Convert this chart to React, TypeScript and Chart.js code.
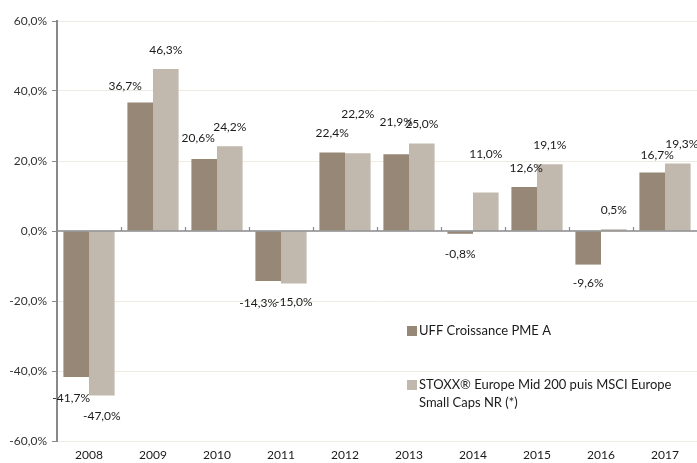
import React, { useEffect, useRef } from "react";
import { Chart, registerables } from "chart.js";

Chart.register(...registerables);

const years = ["2008", "2009", "2010", "2011", "2012", "2013", "2014", "2015", "2016", "2017"];
const uffValues = [-41.7, 36.7, 20.6, -14.3, 22.4, 21.9, -0.8, 12.6, -9.6, 16.7];
const stoxxValues = [-47.0, 46.3, 24.2, -15.0, 22.2, 25.0, 11.0, 19.1, 0.5, 19.3];
const seriesNames = ["UFF Croissance PME A", "STOXX® Europe Mid 200 puis MSCI Europe|Small Caps NR (*)"];

// label placement nudges (dx, dy) in px, per dataset/category
const labelNudges = [
  [[-5, 2], [-15, 3], [-6, -2], [-10, 3], [0, 0], [0, -13], [0, 1], [2, 0], [0, 0], [5, 2]],
  [[0, 2], [0, 0], [0, 0], [0, 0], [0, -20], [0, 0], [0, -19], [0, 0], [0, 0], [4, 0]],
];

const BROWN = "#978777";
const LIGHT = "#c2b9ae";
const AXIS = "#898989";
const GRID = "#eeebe3";
const FONT = "Lato, 'DejaVu Sans', sans-serif";

const fmt = (v: number) => v.toFixed(1).replace(".", ",") + "%";

const overlayPlugin = {
  id: "overlay",
  afterDatasetsDraw(chart: any) {
    const ctx = chart.ctx;
    const y = chart.scales.y;
    const y0 = y.getPixelForValue(0);
    const area = chart.chartArea;
    ctx.save();
    // zero line
    ctx.strokeStyle = AXIS;
    ctx.lineWidth = 1.5;
    ctx.beginPath();
    ctx.moveTo(area.left, y0);
    ctx.lineTo(area.right, y0);
    ctx.stroke();
    // category tick marks
    const n = years.length;
    const w = (area.right - area.left) / n;
    ctx.lineWidth = 1.2;
    for (let i = 1; i < n; i++) {
      const px = Math.round(area.left + w * i) + 0.5;
      ctx.beginPath();
      ctx.moveTo(px, y0);
      ctx.lineTo(px, y0 - 4);
      ctx.stroke();
    }
    // data labels
    ctx.fillStyle = "#1a1a1a";
    ctx.font = "12px " + FONT;
    ctx.textAlign = "center";
    ctx.textBaseline = "middle";
    chart.data.datasets.forEach((ds: any, di: number) => {
      const meta = chart.getDatasetMeta(di);
      meta.data.forEach((bar: any, i: number) => {
        const v = ds.data[i];
        const yEnd = y.getPixelForValue(v);
        const [dx, dy] = labelNudges[di][i];
        const ly = v >= 0 ? yEnd - 19 : yEnd + 19;
        ctx.fillText(fmt(v), bar.x + dx, ly + dy);
      });
    });
    // legend
    ctx.font = "13px " + FONT;
    ctx.textAlign = "left";
    const colors = [BROWN, LIGHT];
    const rows = [331, 385];
    seriesNames.forEach((name, i) => {
      ctx.fillStyle = colors[i];
      ctx.fillRect(407, rows[i] - 5, 10, 10);
      ctx.fillStyle = "#1a1a1a";
      name.split("|").forEach((line, li) => {
        ctx.fillText(line, 419, rows[i] + li * 18);
      });
    });
    ctx.restore();
  },
};

export default function App() {
  const ref = useRef<HTMLCanvasElement>(null);
  useEffect(() => {
    document.body.style.margin = "0";
    const chart = new Chart(ref.current!, {
      type: "bar",
      data: {
        labels: years,
        datasets: [
          { label: "UFF", data: uffValues, backgroundColor: BROWN, categoryPercentage: 0.8, barPercentage: 1.0 },
          { label: "STOXX", data: stoxxValues, backgroundColor: LIGHT, categoryPercentage: 0.8, barPercentage: 1.0 },
        ],
      },
      options: {
        animation: false,
        responsive: false,
        maintainAspectRatio: false,
        layout: { padding: { top: 21, right: 0, left: 0, bottom: 0 } },
        plugins: { legend: { display: false }, tooltip: { enabled: false } },
        scales: {
          x: {
            grid: { display: false, drawTicks: false },
            border: { display: false },
            ticks: { color: "#1a1a1a", font: { family: FONT, size: 12 }, padding: 7 },
            afterFit: (s: any) => { s.height = 22; },
          },
          y: {
            min: -60,
            max: 60,
            ticks: {
              stepSize: 20,
              callback: (v: any) => fmt(Number(v)),
              color: "#333333",
              font: { family: FONT, size: 12 },
              padding: 5,
            },
            grid: {
              color: (c: any) => (c.tick && c.tick.value === 0 ? "rgba(0,0,0,0)" : GRID),
              tickColor: AXIS,
              tickLength: 5,
              lineWidth: 1,
            },
            border: { color: AXIS, width: 2 },
            afterFit: (s: any) => { s.width = 57; },
          },
        },
      },
      plugins: [overlayPlugin],
    });
    return () => chart.destroy();
  }, []);
  return (
    <div style={{ position: "absolute", left: 0, top: 0, width: 697, height: 463, background: "#fff" }}>
      <canvas ref={ref} width={697} height={463} style={{ width: 697, height: 463 }} />
    </div>
  );
}
